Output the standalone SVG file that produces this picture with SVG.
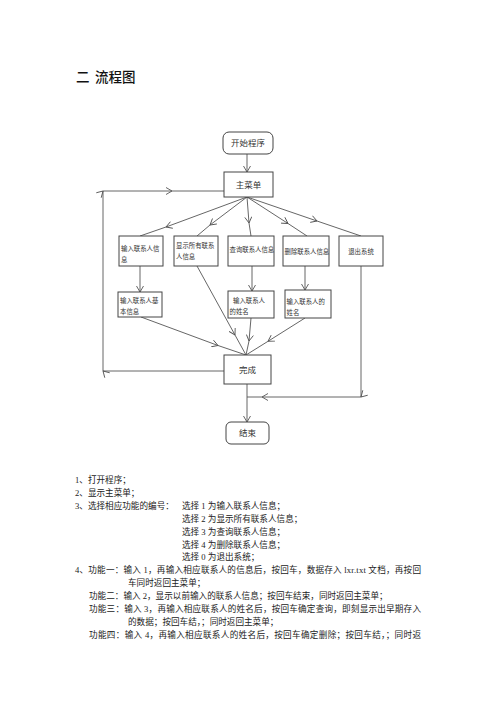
<svg xmlns="http://www.w3.org/2000/svg" width="500" height="708" viewBox="0 0 500 708">
<style>
.box{fill:#fff;stroke:#444;stroke-width:1}
.bt{font-family:"Noto Sans CJK SC",sans-serif;fill:#333}
.s{font-size:6.4px}
.m{font-size:8.5px}
.ln{fill:none;stroke:#555;stroke-width:0.9}
.tx{font-family:"Liberation Serif","Noto Sans CJK SC",serif;font-size:8.6px;fill:#222}
.tt{font-family:"Noto Sans CJK SC",sans-serif;font-size:13.5px;font-weight:500;fill:#111}
</style>
<defs>
<marker id="chev" viewBox="0 0 7 8" refX="6.5" refY="4" markerWidth="7" markerHeight="8" markerUnits="userSpaceOnUse" orient="auto">
<path d="M0.5,0.5 L6.5,4 L0.5,7.5" fill="none" stroke="#555" stroke-width="0.9"/>
</marker>
</defs>
<rect width="500" height="708" fill="#fff"/>
<text class="tt" x="76" y="82">二</text>
<text class="tt" x="95" y="82">流程图</text>

<g id="connectors">
<path class="ln" d="M247,154 L247,172" marker-end="url(#chev)"/>
<path class="ln" d="M247,197 L166,227 L140,236" marker-mid="url(#chev)"/>
<path class="ln" d="M247,197 L210,225 L197,236" marker-mid="url(#chev)"/>
<path class="ln" d="M247,197 L249,223 L251,236" marker-mid="url(#chev)"/>
<path class="ln" d="M247,197 L288,223.5 L307,236" marker-mid="url(#chev)"/>
<path class="ln" d="M247,197 L317,221 L361,236" marker-mid="url(#chev)"/>
<path class="ln" d="M140,266 L140,292" marker-end="url(#chev)"/>
<path class="ln" d="M252,266 L252,291" marker-end="url(#chev)"/>
<path class="ln" d="M305,266 L305,290" marker-end="url(#chev)"/>
<path class="ln" d="M141,317 L218,345.5 L246,355" marker-mid="url(#chev)"/>
<path class="ln" d="M197,266 L235,335 L246,355" marker-mid="url(#chev)"/>
<path class="ln" d="M251,318 L249,341 L246,355" marker-mid="url(#chev)"/>
<path class="ln" d="M305,318 L268,341.3 L246,355" marker-mid="url(#chev)"/>
<path class="ln" d="M361,266 L361,397 L262,397 L247,397" marker-mid="url(#chev)"/>
<path class="ln" d="M247,384 L247,422" marker-end="url(#chev)"/>
<path class="ln" d="M224,371 L103,371 L103,191 L172,191 L224,191" marker-mid="url(#chev)"/>
</g>

<g id="start">
<rect class="box" x="223" y="132" width="50" height="22" rx="6"/>
<text class="bt m" x="248" y="146" text-anchor="middle">开始程序</text>
</g>
<g id="menu">
<rect class="box" x="224" y="172" width="49" height="25"/>
<text class="bt m" x="248.5" y="188" text-anchor="middle">主菜单</text>
</g>
<g id="add">
<rect class="box" x="119" y="236" width="44" height="30"/>
<text class="bt s" x="121" y="251">输入联系人信</text>
<text class="bt s" x="121" y="262">息</text>
</g>
<g id="show">
<rect class="box" x="174" y="236" width="44" height="30"/>
<text class="bt s" x="176" y="248">显示所有联系</text>
<text class="bt s" x="176" y="259">人信息</text>
</g>
<g id="query">
<rect class="box" x="228" y="236" width="46" height="30"/>
<text class="bt s" x="229.5" y="251.5">查询联系人信息</text>
</g>
<g id="delete">
<rect class="box" x="283" y="236" width="46" height="30"/>
<text class="bt s" x="284.5" y="253.5">删除联系人信息</text>
</g>
<g id="exit">
<rect class="box" x="339" y="236" width="44" height="30"/>
<text class="bt s" x="361" y="253.5" text-anchor="middle">退出系统</text>
</g>
<g id="add-input">
<rect class="box" x="118" y="292" width="44" height="25"/>
<text class="bt s" x="120" y="303">输入联系人基</text>
<text class="bt s" x="120" y="314">本信息</text>
</g>
<g id="query-input">
<rect class="box" x="228" y="291" width="46" height="27"/>
<text class="bt s" x="233" y="303">输入联系人</text>
<text class="bt s" x="229.5" y="314">的姓名</text>
</g>
<g id="delete-input">
<rect class="box" x="285" y="290" width="46" height="28"/>
<text class="bt s" x="286.5" y="304">输入联系人的</text>
<text class="bt s" x="286.5" y="315">姓名</text>
</g>
<g id="done">
<rect class="box" x="224" y="355" width="47" height="29"/>
<text class="bt m" x="247.5" y="373" text-anchor="middle">完成</text>
</g>
<g id="end">
<rect class="box" x="226" y="422" width="43" height="22" rx="5"/>
<text class="bt m" x="247.5" y="436" text-anchor="middle">结束</text>
</g>

<g id="notes">
<text class="tx" x="75" y="483">1、打开程序；</text>
<text class="tx" x="75" y="495.9">2、显示主菜单；</text>
<text class="tx" x="75" y="508.8">3、选择相应功能的编号：</text>
<text class="tx" x="182" y="508.8">选择 1 为输入联系人信息；</text>
<text class="tx" x="182" y="521.7">选择 2 为显示所有联系人信息；</text>
<text class="tx" x="182" y="534.6">选择 3 为查询联系人信息；</text>
<text class="tx" x="182" y="547.5">选择 4 为删除联系人信息；</text>
<text class="tx" x="182" y="560.4">选择 0 为退出系统；</text>
<text class="tx" x="75" y="573.3" textLength="346" lengthAdjust="spacing">4、功能一：输入 1，再输入相应联系人的信息后，按回车，数据存入 lxr.txt 文档，再按回</text>
<text class="tx" x="128" y="586.2">车同时返回主菜单；</text>
<text class="tx" x="89" y="599.1">功能二：输入 2，显示以前输入的联系人信息；按回车结束，同时返回主菜单；</text>
<text class="tx" x="89" y="612" textLength="332" lengthAdjust="spacing">功能三：输入 3，再输入相应联系人的姓名后，按回车确定查询，即刻显示出早期存入</text>
<text class="tx" x="128" y="624.9">的数据；按回车结，；同时返回主菜单；</text>
<text class="tx" x="89" y="637.8" textLength="332" lengthAdjust="spacing">功能四：输入 4，再输入相应联系人的姓名后，按回车确定删除；按回车结，；同时返</text>
</g>
</svg>
